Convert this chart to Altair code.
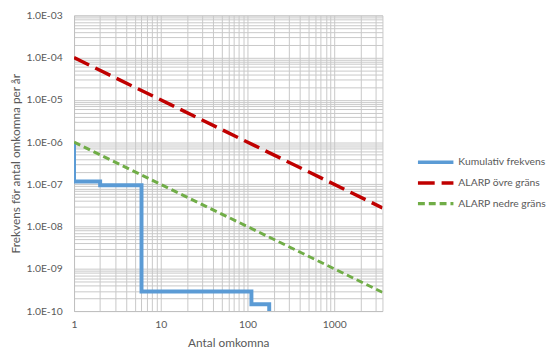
import altair as alt
import pandas as pd

# ---- data ----
series_names = ["Kumulativ frekvens", "ALARP övre gräns", "ALARP nedre gräns"]
series_colors = ["#5B9BD5", "#C00000", "#70AD47"]

cum_x = [1, 1, 2, 6, 111, 178]
cum_y = [1e-6, 1.17e-7, 9.5e-8, 2.9e-10, 1.45e-10, 1e-10]

upper_x = [1, 3600]
upper_y = [1e-4, 2.78e-8]

lower_x = [1, 3600]
lower_y = [1e-6, 2.78e-10]

x_labels = [1, 10, 100, 1000]
y_exponents = [-10, -9, -8, -7, -6, -5, -4, -3]

# ---- tables ----
rows = []
for name, xs, ys in zip(series_names, [cum_x, upper_x, lower_x], [cum_y, upper_y, lower_y]):
    for i, (xv, yv) in enumerate(zip(xs, ys)):
        rows.append({"serie": name, "x": xv, "y": yv, "idx": i})
df = pd.DataFrame(rows)

x_grid = []
for e in range(0, 4):
    for k in range(1, 10):
        v = float(f"{k}e{e}")
        if v <= 3600:
            x_grid.append(v)
y_grid = []
for e in y_exponents[:-1]:
    for k in range(1, 10):
        y_grid.append(float(f"{k}e{e}"))
y_grid.append(1e-3)

FONT = "Lato"
GREY = "#595959"

x_enc = alt.X(
    "x:Q",
    scale=alt.Scale(type="log", domain=[1, 3600], nice=False),
    axis=alt.Axis(
        title="Antal omkomna",
        values=x_grid,
        labelExpr="indexof([" + ",".join(str(v) for v in x_labels) + "], datum.value) >= 0 ? datum.label : ''",
        format="d",
        ticks=False,
        labelPadding=9,
        titlePadding=7,
        labelFlush=False,
        labelOverlap=False,
    ),
)
y_enc = alt.Y(
    "y:Q",
    scale=alt.Scale(type="log", domain=[1e-10, 1e-3], nice=False),
    axis=alt.Axis(
        title="Frekvens för antal omkomna per år",
        values=y_grid,
        labelExpr=(
            "abs(datum.value / pow(10, round(log(datum.value)/LN10)) - 1) < 1e-6 ? "
            "('1.0E-' + (abs(round(log(datum.value)/LN10)) < 10 ? '0' : '') + abs(round(log(datum.value)/LN10))) : ''"
        ),
        ticks=False,
        labelPadding=12,
        titlePadding=4,
        labelFlush=False,
        labelOverlap=False,
    ),
)
color_enc = alt.Color(
    "serie:N",
    scale=alt.Scale(domain=series_names, range=series_colors),
    legend=alt.Legend(title=None),
)
dash_enc = alt.StrokeDash(
    "serie:N",
    scale=alt.Scale(domain=series_names, range=[[1, 0], [17, 7], [7, 4]]),
    legend=alt.Legend(title=None),
)

base = alt.Chart(df).encode(
    x=x_enc, y=y_enc, color=color_enc, strokeDash=dash_enc, order="idx:Q"
)

cum = base.transform_filter(alt.datum.serie == series_names[0]).mark_line(
    interpolate="step-after", strokeWidth=4, clip=True
)
upper = base.transform_filter(alt.datum.serie == series_names[1]).mark_line(
    strokeWidth=3.5, clip=True
)
lower = base.transform_filter(alt.datum.serie == series_names[2]).mark_line(
    strokeWidth=3, clip=True
)

chart = (
    alt.layer(cum, upper, lower)
    .properties(
        width=313,
        height=300,
        autosize=alt.AutoSizeParams(type="none"),
        padding={"left": 67, "top": 5, "right": 170, "bottom": 37},
    )
    .configure_view(stroke="#c8c8c8", strokeWidth=1)
    .configure_axis(
        gridColor="#c8c8c8",
        gridWidth=1,
        domainColor="#bfbfbf",
        labelFont=FONT,
        labelFontSize=10.5,
        labelColor=GREY,
        titleFont=FONT,
        titleFontSize=12,
        titleColor=GREY,
        titleFontWeight="normal",
    )
    .configure_legend(
        orient="none",
        legendX=353,
        legendY=135,
        padding=0,
        symbolType="M-1.5,0H1.5",
        symbolSize=576,
        symbolStrokeWidth=3.5,
        labelOffset=9,
        labelFont=FONT,
        labelFontSize=10.5,
        labelColor=GREY,
        rowPadding=-1,
    )
)

chart.save("out.html", embed_options={"renderer": "svg", "actions": False})
